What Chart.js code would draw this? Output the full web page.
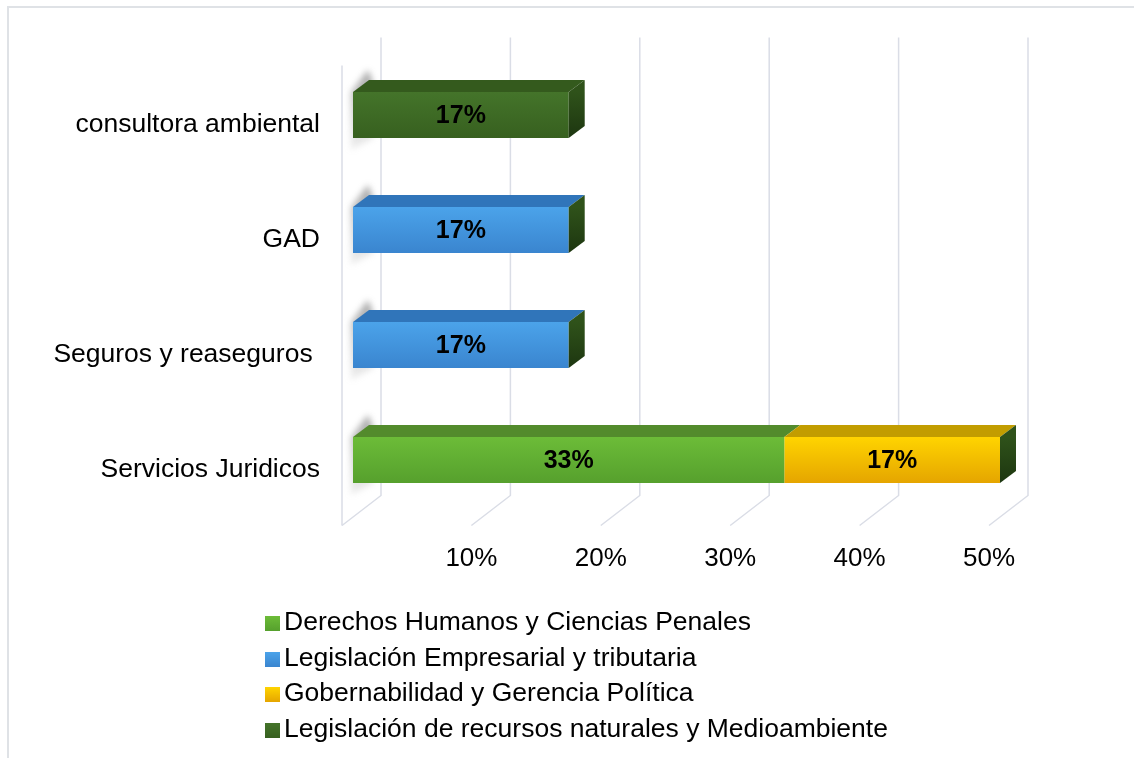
<!DOCTYPE html>
<html>
<head>
<meta charset="utf-8">
<script src="https://cdn.jsdelivr.net/npm/chart.js@4.4.1/dist/chart.umd.min.js"></script>
<style>
    body { margin: 0; background: #fff; }
    #wrap { position: relative; width: 1134px; height: 758px; overflow: hidden; }
    #frame { position: absolute; left: 7px; top: 6px; width: 2000px; height: 2000px;
             border-left: 2px solid #dfe2e6; border-top: 2px solid #dfe2e6; }
    #chart { position: absolute; left: 0; top: 0; }
    #legend { position: absolute; left: 265px; top: 604px; margin: 0; padding: 0; list-style: none;
              font-family: "Liberation Sans", Arial, sans-serif; font-size: 26.5px; color: #000; }
    #legend li { height: 35.7px; line-height: 35.7px; white-space: nowrap; }
    #legend .box { display: inline-block; width: 15px; height: 15px; margin-right: 4px; vertical-align: -1px; }
</style>
</head>
<body>
<div id="wrap">
    <div id="frame"></div>
    <canvas id="chart" width="1134" height="758"></canvas>
    <ul id="legend"></ul>
</div>
<script>
document.addEventListener("DOMContentLoaded", function () {
    const categories = ["consultora ambiental", "GAD", "Seguros y reaseguros ", "Servicios Juridicos"];
    const seriesNames = [
        "Derechos Humanos y Ciencias Penales",
        "Legislación Empresarial y tributaria",
        "Gobernabilidad y Gerencia Política",
        "Legislación de recursos naturales y Medioambiente"
    ];
    const derechosHumanos = [0, 0, 0, 33.33];
    const legislacionEmpresarial = [0, 16.67, 16.67, 0];
    const gobernabilidad = [0, 0, 0, 16.67];
    const recursosNaturales = [16.67, 0, 0, 0];
    const xMax = 50;
    const xStep = 10;

    // colores: frente (arriba, abajo) y cara superior
    const frontTop = ["#6cbc38", "#4ba3ea", "#ffd400", "#44742a"];
    const frontBottom = ["#56a02d", "#3a85cf", "#e5a500", "#37601f"];
    const topFace = ["#538b2c", "#3075ba", "#c29d00", "#345a1d"];
    const depthX = 16, depthY = 12;
    const fontFamily = "'Liberation Sans', Arial, sans-serif";

    function faceGradient(c1, c2) {
        return function (context) {
            const chart = context.chart;
            const yScale = chart.scales.y;
            if (!chart.chartArea || !yScale) return c1;
            const y = yScale.getPixelForValue(context.dataIndex);
            const g = chart.ctx.createLinearGradient(0, y - 23, 0, y + 23);
            g.addColorStop(0, c1);
            g.addColorStop(1, c2);
            return g;
        };
    }

    const seriesData = [derechosHumanos, legislacionEmpresarial, gobernabilidad, recursosNaturales];
    const datasets = seriesData.map((d, i) => ({
        label: seriesNames[i],
        data: d,
        backgroundColor: faceGradient(frontTop[i], frontBottom[i]),
        borderWidth: 0,
        barPercentage: 0.4,
        categoryPercentage: 1
    }));

    const wallPlugin = {
        id: "wall3d",
        beforeDatasetsDraw(chart) {
            const ctx = chart.ctx;
            const xs = chart.scales.x;
            const a = chart.chartArea;
            ctx.save();
            ctx.strokeStyle = "#dadde6";
            ctx.lineWidth = 1.5;
            xs.ticks.forEach(t => {
                const px = xs.getPixelForValue(t.value);
                ctx.beginPath();
                ctx.moveTo(px + 28, a.top - 20);
                ctx.lineTo(px + 28, a.bottom - 22);
                ctx.lineTo(px - 11, a.bottom + 8);
                ctx.stroke();
            });
            const p0 = xs.getPixelForValue(0);
            ctx.beginPath();
            ctx.moveTo(p0 - 11, a.top + 8);
            ctx.lineTo(p0 - 11, a.bottom + 8);
            ctx.stroke();

            // sombra a la izquierda de cada barra
            const meta = chart.getDatasetMeta(0);
            ctx.filter = "blur(3px)";
            meta.data.forEach(bar => {
                const top = bar.y - bar.height / 2;
                const bottom = bar.y + bar.height / 2;
                const g = ctx.createLinearGradient(0, top - 22, 0, bottom + 12);
                g.addColorStop(0, "rgba(90,90,90,0.55)");
                g.addColorStop(1, "rgba(140,140,140,0.15)");
                ctx.fillStyle = g;
                ctx.beginPath();
                ctx.moveTo(p0 - 2, top);
                ctx.lineTo(p0 + 15, top - 22);
                ctx.lineTo(p0 + 20, top - 10);
                ctx.lineTo(p0 + 20, bottom);
                ctx.lineTo(p0 - 2, bottom + 12);
                ctx.closePath();
                ctx.fill();
            });
            ctx.restore();
        },
        afterDatasetsDraw(chart) {
            const ctx = chart.ctx;
            const ends = {};
            ctx.save();
            chart.data.datasets.forEach((ds, di) => {
                chart.getDatasetMeta(di).data.forEach((bar, i) => {
                    if (!(ds.data[i] > 0)) return;
                    const top = bar.y - bar.height / 2;
                    const x0 = Math.min(bar.base, bar.x);
                    const x1 = Math.max(bar.base, bar.x);
                    ctx.fillStyle = topFace[di];
                    ctx.beginPath();
                    ctx.moveTo(x0, top);
                    ctx.lineTo(x0 + depthX, top - depthY);
                    ctx.lineTo(x1 + depthX, top - depthY);
                    ctx.lineTo(x1, top);
                    ctx.closePath();
                    ctx.fill();
                    if (!ends[i] || x1 > ends[i].x) ends[i] = { x: x1, top: top, bottom: bar.y + bar.height / 2 };
                });
            });
            Object.values(ends).forEach(e => {
                const g = ctx.createLinearGradient(0, e.top, 0, e.bottom);
                g.addColorStop(0, "#2f521a");
                g.addColorStop(1, "#1d3610");
                ctx.fillStyle = g;
                ctx.beginPath();
                ctx.moveTo(e.x, e.top);
                ctx.lineTo(e.x + depthX, e.top - depthY);
                ctx.lineTo(e.x + depthX, e.bottom - depthY);
                ctx.lineTo(e.x, e.bottom);
                ctx.closePath();
                ctx.fill();
            });

            ctx.fillStyle = "#000";
            ctx.font = "bold 25px " + fontFamily;
            ctx.textAlign = "center";
            ctx.textBaseline = "middle";
            chart.data.datasets.forEach((ds, di) => {
                chart.getDatasetMeta(di).data.forEach((bar, i) => {
                    if (!(ds.data[i] > 0)) return;
                    ctx.fillText(Math.round(ds.data[i]) + "%", (bar.base + bar.x) / 2, bar.y + 1);
                });
            });
            ctx.restore();
        }
    };

    const ctx = document.getElementById("chart").getContext("2d");
    new Chart(ctx, {
        type: "bar",
        data: { labels: categories, datasets: datasets },
        options: {
            indexAxis: "y",
            responsive: false,
            devicePixelRatio: 1,
            animation: false,
            layout: { padding: { top: 57.5, right: 134, bottom: 180.5, left: 0 } },
            plugins: {
                legend: { display: false },
                tooltip: { enabled: false }
            },
            scales: {
                x: {
                    stacked: true,
                    min: 0,
                    max: xMax,
                    grid: { display: false },
                    border: { display: false },
                    afterFit(scale) { scale.height = 60; },
                    ticks: {
                        stepSize: xStep,
                        padding: 18,
                        labelOffset: -11,
                        color: "#000",
                        font: { family: fontFamily, size: 26 },
                        callback: v => v === 0 ? "" : v + "%"
                    }
                },
                y: {
                    stacked: true,
                    grid: { display: false },
                    border: { display: false },
                    afterFit(scale) { scale.width = 353; },
                    ticks: {
                        padding: 25,
                        labelOffset: 10,
                        color: "#000",
                        font: { family: fontFamily, size: 26.5 }
                    }
                }
            }
        },
        plugins: [wallPlugin]
    });

    const legend = document.getElementById("legend");
    seriesNames.forEach((name, i) => {
        const li = document.createElement("li");
        const box = document.createElement("span");
        box.className = "box";
        box.style.background = "linear-gradient(" + frontTop[i] + ", " + frontBottom[i] + ")";
        li.appendChild(box);
        li.appendChild(document.createTextNode(name));
        legend.appendChild(li);
    });
});
</script>
</body>
</html>
